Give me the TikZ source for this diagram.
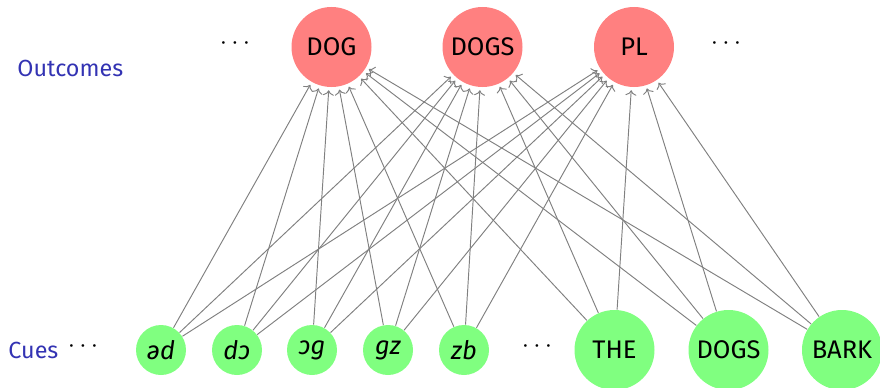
\documentclass[tikz,border=0pt]{standalone}
\usepackage{fontspec}
\setmainfont{Fira Sans}
\usetikzlibrary{arrows.meta}
\definecolor{struct}{RGB}{51,51,179}
\tikzset{
  outnode/.style={circle, fill=red!50, minimum size=33.6pt, inner sep=0pt},
  cuesmall/.style={circle, fill=green!50, minimum size=21pt, inner sep=0pt, font=\fontsize{10.7}{13}\selectfont\itshape},
  cuebig/.style={circle, fill=green!50, minimum size=33.6pt, inner sep=0pt},
  edge/.style={draw=gray, line width=0.4pt, -{To[length=2.2pt,width=4.6pt]}, shorten >=1.2pt},
  lbl/.style={text=struct, inner sep=0pt, font=\fontsize{9.8}{12}\selectfont},
  dotsnode/.style={inner sep=0pt, font=\fontsize{11}{13}\selectfont}
}
\begin{document}
\begin{tikzpicture}[x=0.42pt, y=-0.42pt, every node/.append style={font=\fontsize{10.7}{13}\selectfont}]
\useasboundingbox (0,0) rectangle (880,388);
% outcomes
\node[outnode] (o1) at (331.5,47) {DOG};
\node[outnode] (o2) at (482.5,47) {DOGS};
\node[outnode] (o3) at (634,47) {PL};
% cues
\node[cuesmall] (c1) at (161,350) {əd};
\node[cuesmall] (c2) at (237,350) {dɔ};
\node[cuesmall] (c3) at (312,350) {ɔg};
\node[cuesmall] (c4) at (388,350) {gz};
\node[cuesmall] (c5) at (464,350) {zb};
\node[cuebig] (c6) at (614.5,350) {THE};
\node[cuebig] (c7) at (728.5,350) {DOGS};
\node[cuebig] (c8) at (842,350) {BARK};
% labels
\node[lbl, anchor=base west] (lo) at (17,76) {Outcomes};
\node[lbl, anchor=base west] (lc) at (8,358) {Cues};
% dots
\node[dotsnode] (d1) at (235,44) {$\cdots$};
\node[dotsnode] (d2) at (726,44) {$\cdots$};
\node[dotsnode] (d3) at (83,347) {$\cdots$};
\node[dotsnode] (d4) at (537,347) {$\cdots$};
% edges
\foreach \c in {c1,c2,c3,c4,c5,c6,c7,c8}
  \foreach \o in {o1,o2,o3}
    \draw[edge] (\c) -- (\o);
\end{tikzpicture}
\end{document}
